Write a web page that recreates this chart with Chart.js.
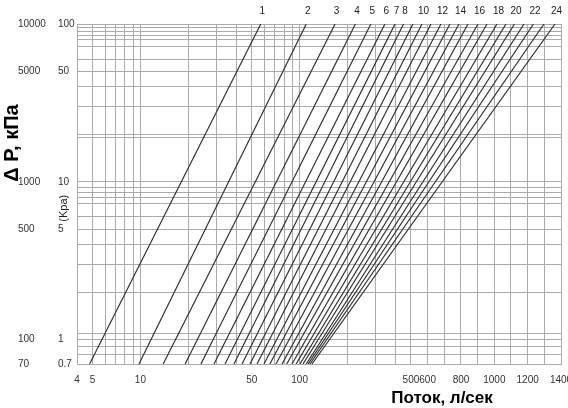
<!DOCTYPE html>
<html>
<head>
<meta charset="utf-8">
<script src="https://cdn.jsdelivr.net/npm/chart.js@4.4.1/dist/chart.umd.min.js"></script>
<style>
html, body { margin: 0; padding: 0; background: #fff; }
</style>
</head>
<body>
<canvas id="chart" width="568" height="408"></canvas>
<script>
// curve numbers, and which of them carry a label above the grid
const lineNames = ['1','2','3','4','5','6','7','8','9','10','11','12','13','14','15','16','17','18','19','20','21','22','23','24'];
const labelledLines = ['1','2','3','4','5','6','7','8','10','12','14','16','18','20','22','24'];

// flow (л/сек) where each curve meets the bottom (0.7 Kpa) and the top (100 Kpa) of the grid
const flowAtLow  = [4.8, 9.8, 13.9, 19.1, 24, 29, 34, 38.7, 43.5, 48.8, 54, 59.7, 65, 71, 77.5, 83, 89.5, 95, 100.5, 105, 110, 113, 116, 119.5];
const flowAtHigh = [57, 110, 167, 224, 280, 343, 397, 449, 512, 566, 620, 680, 734, 788, 842, 902, 956, 1016, 1070, 1121, 1178, 1235, 1298, 1364];
const dpLow = 0.7;
const dpHigh = 100;

// axes
const xGrid = [4,5,6,7,8,9,10,20,30,40,50,60,70,80,90,100,200,300,400,500,600,700,800,900,1000,1100,1200,1300,1400];
const xTickLabels = [4,5,10,50,100,500,600,800,1000,1200,1400];
const yGrid = [0.7,0.8,0.9,1,1.1,2,3,4,5,6,7.3,8,8.5,9.2,10,19,20,30,40,50,60,72,80,85,90,95,100];
const yTickLabels = [0.7,1,5,10,50,100];
const yOuterLabels = [70,100,500,1000,5000,10000];

// the flow axis is logarithmic up to 500 and linear after that
const breakFlow = 500;
const breakFrac = 0.69;

class FlowScale extends Chart.LogarithmicScale {
	getPixelForValue(value) {
		let d;
		if (value <= breakFlow) {
			d = breakFrac * Math.log(value / this.min) / Math.log(breakFlow / this.min);
		} else {
			d = breakFrac + (1 - breakFrac) * (value - breakFlow) / (this.max - breakFlow);
		}
		return this.getPixelForDecimal(d);
	}
	getValueForPixel(pixel) {
		const d = this.getDecimalForPixel(pixel);
		if (d <= breakFrac) return this.min * Math.pow(breakFlow / this.min, d / breakFrac);
		return breakFlow + (d - breakFrac) / (1 - breakFrac) * (this.max - breakFlow);
	}
}
FlowScale.id = 'flow';
FlowScale.defaults = Chart.LogarithmicScale.defaults;
Chart.register(FlowScale);

const gridColor = '#ababab';
const labelFont = {family: '"Liberation Sans", Arial, sans-serif', size: 10};
const labelColor = '#333';

const textPlugin = {
	id: 'texts',
	afterDraw(chart) {
		const {ctx, chartArea, scales} = chart;
		ctx.save();
		ctx.fillStyle = '#222';
		ctx.textAlign = 'center';
		ctx.textBaseline = 'middle';
		ctx.font = '10px "Liberation Sans", Arial, sans-serif';
		chart.data.datasets.forEach((ds, i) => {
			if (!labelledLines.includes(ds.label)) return;
			const top = chart.getDatasetMeta(i).data[1];
			ctx.fillText(ds.label, top.x + 1.5, chartArea.top - 13);
		});

		ctx.font = '11px "Liberation Sans", Arial, sans-serif';
		ctx.save();
		ctx.translate(scales.y.left + 6, scales.y.getPixelForValue(6.8));
		ctx.rotate(-Math.PI / 2);
		ctx.fillText('(Kpa)', 0, 0);
		ctx.restore();

		ctx.fillStyle = '#000';
		ctx.font = 'bold 20px "Liberation Sans", Arial, sans-serif';
		ctx.save();
		ctx.translate(12, 143);
		ctx.rotate(-Math.PI / 2);
		ctx.fillText('\u0394 P, кПа', 0, 0);
		ctx.restore();

		ctx.font = 'bold 17px "Liberation Sans", Arial, sans-serif';
		ctx.fillText('Поток, л/сек', 442, 398);
		ctx.restore();
	}
};

const datasets = lineNames.map((name, i) => ({
	label: name,
	data: [{x: flowAtLow[i], y: dpLow}, {x: flowAtHigh[i], y: dpHigh}],
	borderColor: '#333',
	borderWidth: 1.2,
	pointRadius: 0,
	tension: 0
}));

new Chart(document.getElementById('chart'), {
	type: 'line',
	data: {datasets},
	plugins: [textPlugin],
	options: {
		responsive: false,
		devicePixelRatio: 1,
		animation: false,
		layout: {padding: {top: 24, left: 18, right: 7, bottom: 0}},
		plugins: {legend: {display: false}, tooltip: {enabled: false}},
		scales: {
			x: {
				type: 'flow',
				position: 'bottom',
				min: 4,
				max: 1400,
				bounds: 'data',
				afterBuildTicks: s => { s.ticks = xGrid.map(v => ({value: v})); },
				afterFit: s => { s.height = 44; s.paddingLeft = 0; s.paddingRight = 0; },
				grid: {color: gridColor, drawTicks: false},
				border: {color: gridColor},
				ticks: {
					autoSkip: false, maxRotation: 0, minRotation: 0, padding: 10,
					font: labelFont, color: labelColor,
					callback: v => xTickLabels.includes(v) ? String(v) : ''
				}
			},
			y: {
				type: 'logarithmic',
				position: 'left',
				weight: 0,
				min: dpLow,
				max: dpHigh,
				bounds: 'data',
				afterBuildTicks: s => { s.ticks = yGrid.map(v => ({value: v})); },
				afterFit: s => { s.width = 19; },
				grid: {color: gridColor, drawTicks: false},
				border: {color: gridColor},
				ticks: {
					autoSkip: false, crossAlign: 'far', padding: 0,
					font: labelFont, color: labelColor,
					callback: v => yTickLabels.includes(v) ? String(v) : ''
				}
			},
			y2: {
				type: 'logarithmic',
				position: 'left',
				weight: 1,
				min: 70,
				max: 10000,
				bounds: 'data',
				afterBuildTicks: s => { s.ticks = yOuterLabels.map(v => ({value: v})); },
				afterFit: s => { s.width = 40; },
				grid: {display: false, drawTicks: false},
				border: {display: false},
				ticks: {
					autoSkip: false, crossAlign: 'far', padding: 0,
					font: labelFont, color: labelColor,
					callback: v => String(v)
				}
			}
		}
	}
});
</script>
</body>
</html>
